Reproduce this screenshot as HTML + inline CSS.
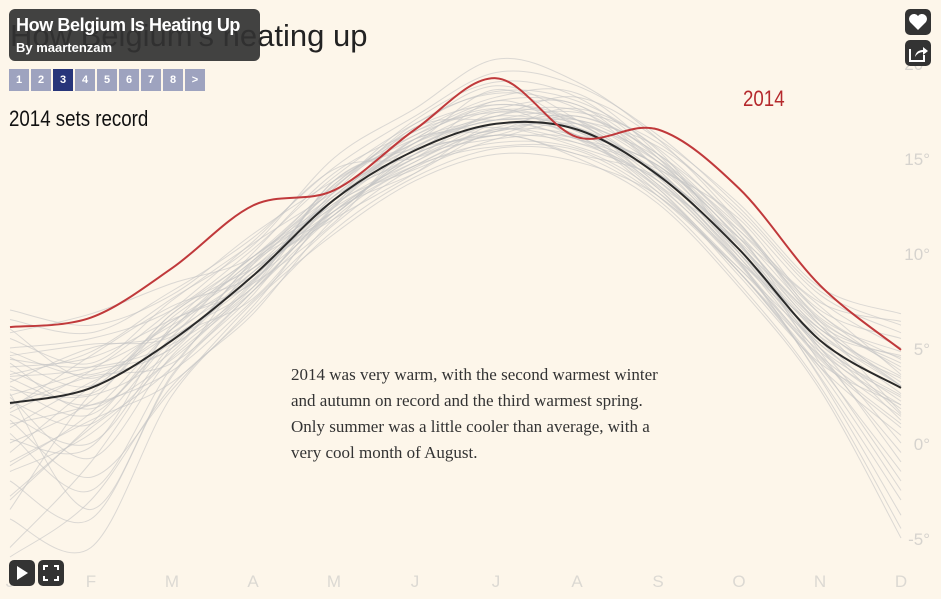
<!DOCTYPE html>
<html><head><meta charset="utf-8">
<style>
body{margin:0;background:#fdf6ea;width:941px;height:599px;overflow:hidden;position:relative;font-family:"Liberation Sans",sans-serif}
svg{position:absolute;left:0;top:0}
.title{position:absolute;left:10px;top:18px;font-size:31px;color:#222;font-weight:300}
.sub{position:absolute;left:9px;top:106px;font-size:22px;color:#111;transform:scaleX(.85);transform-origin:left}
.overlay{position:absolute;left:9px;top:9px;width:251px;height:52px;background:rgba(50,50,50,.92);border-radius:6px;color:#fff}
.overlay .t{position:absolute;left:7px;top:6px;font-size:18px;font-weight:bold;white-space:nowrap;letter-spacing:-0.4px}
.overlay .b{position:absolute;left:7px;top:31px;font-size:13px;font-weight:bold}
.pages{position:absolute;left:9px;top:69px;display:flex;gap:2px}
.pages div{width:20px;height:22px;background:#9ea3bf;color:#fff;font-size:11px;font-weight:bold;text-align:center;line-height:22px}
.pages div.on{background:#27357a}
.note{position:absolute;left:291px;top:362px;font-family:"Liberation Serif",serif;font-size:17px;line-height:26px;color:#333;width:385px}
.btn{position:absolute;width:26px;height:26px;background:#333;border-radius:5px}
.yr{position:absolute;left:743px;top:86px;color:#b5292c;font-size:22px;transform:scaleX(.85);transform-origin:left}
</style></head><body>
<svg id="chart" width="941" height="599"></svg>
<div class="title">How Belgium's heating up</div>
<div class="sub">2014 sets record</div>
<div class="yr">2014</div>
<div class="overlay"><div class="t">How Belgium Is Heating Up</div><div class="b">By maartenzam</div></div>
<div class="pages">
<div>1</div><div>2</div><div class="on">3</div><div>4</div><div>5</div><div>6</div><div>7</div><div>8</div><div>&gt;</div></div>
<div class="note">2014 was very warm, with the second warmest winter and autumn on record and the third warmest spring. Only summer was a little cooler than average, with a very cool month of August.</div>
<div class="btn" style="left:905px;top:9px"><svg width="26" height="26"><path d="M13 21 L5 13 A4.5 4.5 0 0 1 13 7 A4.5 4.5 0 0 1 21 13 Z" fill="#fff"/></svg></div>
<div class="btn" style="left:905px;top:40px"><svg width="26" height="26"><path d="M5 9 V21 H19 V15" stroke="#fff" stroke-width="2" fill="none"/><path d="M10 17 Q11 10 18 10 V7 L23 11 L18 15 V12 Q13 12 10 17Z" fill="#fff"/></svg></div>
<div class="btn" style="left:9px;top:560px"><svg width="26" height="26"><path d="M8 6 L19 13 L8 20Z" fill="#fff"/></svg></div>
<div class="btn" style="left:38px;top:560px"><svg width="26" height="26" stroke="#fff" stroke-width="2" fill="none"><path d="M6 10V6H10M16 6H20V10M20 16V20H16M10 20H6V16"/></svg></div>
<script>
const months=["J","F","M","A","M","J","J","A","S","O","N","D"];
const yTicks=[20,15,10,5,0,-5];
const avg=[2.1,2.9,5.4,8.8,12.8,15.4,16.8,16.5,14.1,10.2,5.4,2.9];
const y2014=[6.1,6.6,9.2,12.5,13.3,16.5,19.2,16.1,16.5,13.4,8.3,4.9];
const years=[
[3.5,4.0,6.2,9.0,13.0,15.8,17.5,17.0,14.5,10.5,6.0,3.5],
[-1.5,0.5,4.5,8.0,12.0,15.0,16.0,16.0,13.5,9.5,4.5,1.0],
[4.5,3.0,6.8,9.8,13.5,16.2,18.0,17.8,15.0,11.0,6.5,4.0],
[0.5,-2.5,4.0,8.5,12.5,14.8,16.5,15.8,13.8,9.8,5.0,0.0],
[2.5,3.8,5.0,9.5,12.0,15.5,17.2,17.5,14.8,10.8,6.2,4.5],
[-3.0,1.0,5.5,8.2,13.2,15.2,16.8,16.2,13.0,9.0,4.0,-1.5],
[5.0,5.5,7.0,10.2,14.0,16.8,18.5,18.0,15.5,11.5,7.0,5.5],
[1.0,2.0,3.8,7.5,11.5,14.5,15.8,15.5,13.2,9.2,4.8,2.0],
[3.0,1.5,6.0,9.8,12.8,16.0,17.8,16.8,14.2,10.0,5.8,3.0],
[-5.5,-1.0,5.0,8.8,12.2,15.0,16.5,16.6,14.0,9.5,3.5,-3.0],
[4.0,4.5,6.5,8.5,13.8,15.5,16.2,17.2,15.2,11.2,6.8,3.8],
[2.0,3.5,4.2,8.0,12.5,16.5,18.8,17.0,13.6,10.5,5.2,2.5],
[0.0,2.2,6.8,9.2,11.8,14.2,16.8,16.0,14.6,10.2,5.6,1.5],
[5.5,4.2,7.5,10.5,13.2,15.8,17.0,17.4,15.8,12.0,7.5,5.0],
[-2.0,-4.0,3.5,7.8,12.8,15.6,17.2,16.4,13.4,8.8,4.2,2.0],
[3.2,5.0,5.8,9.2,12.2,14.6,16.2,15.2,14.0,10.6,6.4,4.2],
[1.5,0.0,5.2,8.6,13.6,16.2,17.6,17.8,14.4,9.8,4.6,-0.5],
[2.8,2.5,4.8,9.6,13.0,15.0,17.4,16.8,15.0,11.0,5.0,1.8],
[-0.5,3.0,6.4,8.4,11.6,15.8,16.6,15.6,13.8,9.6,6.0,3.2],
[4.2,1.8,5.6,10.0,14.2,16.4,18.2,18.4,15.2,10.4,5.8,2.6],
[1.8,4.6,7.2,8.8,12.6,14.4,16.0,16.8,14.8,11.4,6.6,4.8],
[-1.0,1.2,3.2,7.2,12.4,15.4,17.0,16.2,13.2,9.0,3.8,-2.5],
[3.8,2.6,6.6,9.4,13.4,16.6,17.8,17.0,14.2,10.8,7.2,3.6],
[0.8,3.2,5.0,9.0,12.0,15.2,16.4,17.6,15.4,10.0,5.4,1.2],
[2.4,-0.8,4.6,8.2,13.8,15.8,18.6,16.6,13.6,9.4,4.4,0.8],
[4.8,3.6,6.0,9.6,12.4,14.8,16.8,16.0,14.4,11.8,6.8,4.4],
[6.5,5.8,8.0,10.8,14.5,17.2,19.5,18.8,16.2,12.4,8.0,6.2],
[-4.0,-5.5,2.5,7.0,11.2,14.0,15.5,15.2,12.8,8.4,3.0,-4.5],
[7.0,6.2,7.8,11.0,13.8,16.0,17.2,18.2,16.0,12.6,8.2,6.8],
[-6.0,-3.0,3.0,6.8,11.8,14.6,16.2,15.0,12.6,8.2,2.8,-5.0],
[3.6,4.8,7.6,10.4,15.0,17.6,20.2,19.0,16.0,11.6,6.2,3.0],
[1.2,-1.8,2.8,7.4,11.0,13.8,15.2,14.8,13.0,9.0,4.0,0.4],
[5.8,6.8,8.4,9.8,13.6,16.4,17.4,17.0,15.6,12.2,7.8,5.8],
[-2.8,0.8,4.0,9.4,13.4,17.0,19.0,18.2,15.0,10.2,4.8,-1.0],
[2.2,1.0,5.4,7.6,12.2,14.6,15.6,15.4,13.0,9.2,5.2,2.2],
[4.6,5.2,5.6,9.0,12.8,15.2,18.0,16.4,14.6,11.2,7.4,6.4],
[0.2,-0.2,6.2,9.8,12.6,16.0,16.4,17.0,14.8,10.6,4.2,-2.0],
[3.4,2.0,4.4,8.4,13.0,15.6,17.0,16.6,13.8,9.6,5.6,3.4],
[-3.5,2.6,5.8,8.6,12.0,15.2,16.2,15.8,14.2,10.4,6.2,1.6],
[6.0,3.4,6.4,9.2,13.2,16.8,18.4,17.6,14.4,10.0,5.0,2.4],
[1.6,3.8,7.0,10.6,14.4,15.0,16.6,17.2,15.2,11.6,6.4,3.0],
[2.6,-3.5,3.6,8.0,12.4,16.0,17.6,16.0,13.4,9.0,4.6,1.4],
[4.4,4.0,5.2,8.2,12.2,14.2,16.4,16.2,14.6,10.8,6.0,4.6],
[-1.2,1.6,6.0,9.6,12.8,16.6,17.0,16.8,14.0,9.6,3.4,-3.8]
];
const svg=document.getElementById('chart');
const NS="http://www.w3.org/2000/svg";
const X=i=>10+i*81;
const Y=v=>443-19*v;
function path(vals){
  const p=vals.map((v,i)=>[X(i),Y(v)]);
  let d=`M${p[0][0]},${p[0][1]}`;
  for(let i=0;i<p.length-1;i++){
    const p0=p[i-1]||p[i],p1=p[i],p2=p[i+1],p3=p[i+2]||p2;
    d+=`C${p1[0]+(p2[0]-p0[0])/6},${p1[1]+(p2[1]-p0[1])/6} ${p2[0]-(p3[0]-p1[0])/6},${p2[1]-(p3[1]-p1[1])/6} ${p2[0]},${p2[1]}`;
  }
  return d;
}
function mk(tag,attrs){const e=document.createElementNS(NS,tag);for(const k in attrs)e.setAttribute(k,attrs[k]);svg.appendChild(e);return e;}
yTicks.forEach(t=>{
  const e=mk('text',{x:930,y:Y(t)+7,'text-anchor':'end','font-size':17,fill:'#d6d3ce','font-family':'Liberation Sans, sans-serif'});
  e.textContent=t+'°';
  
  
});
months.forEach((m,i)=>{
  const e=mk('text',{x:X(i),y:587,'text-anchor':'middle','font-size':17,fill:'#dcd9d3','font-family':'Liberation Sans, sans-serif'});
  e.textContent=m;
  
  
});
years.forEach(v=>{
  const e=mk('path',{d:path(v),fill:'none',stroke:'#c4c4c4','stroke-width':1,'stroke-opacity':0.6});
  
  
});
const a=mk('path',{d:path(avg),fill:'none',stroke:'#2a2a2a','stroke-width':2});


const r=mk('path',{d:path(y2014),fill:'none',stroke:'#c0393b','stroke-width':2});


</script>
</body></html>
